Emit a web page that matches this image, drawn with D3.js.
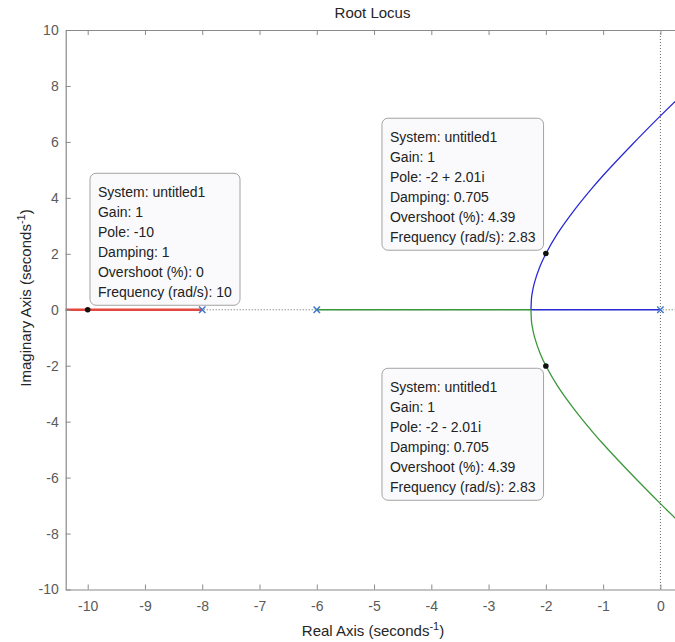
<!DOCTYPE html>
<html>
<head>
<meta charset="utf-8">
<script src="https://cdn.jsdelivr.net/npm/d3@7"></script>
<style>
  body { margin: 0; background: #fff; }
  svg { display: block; font-family: "Liberation Sans", Arial, sans-serif; }
  .axis path, .axis line { stroke: #8a8a8a; }
  .axis text { fill: #5a5a5a; font-size: 14px; }
</style>
</head>
<body>
<svg id="chart" width="675" height="642"></svg>
<script>
// values
const xTicks = [-10, -9, -8, -7, -6, -5, -4, -3, -2, -1, 0];
const yTicks = [-10, -8, -6, -4, -2, 0, 2, 4, 6, 8, 10];
const openLoopPoles = [0, -6, -8];
const breakaway = -2.26;

// upper complex branch (blue), [real, imag]
const upperBranch = [
  [-2.26, 0], [-2.25, 0.43], [-2.24, 0.58], [-2.2, 0.96], [-2.1, 1.56],
  [-2.0, 2.0], [-1.8, 2.71], [-1.5, 3.57], [-1.2, 4.33], [-1.0, 4.8],
  [-0.5, 5.89], [0, 6.93], [0.3, 7.53], [0.5, 7.92]
];
// lower branch (green) mirrors it
const lowerBranch = upperBranch.map(d => [d[0], -d[1]]);
// red branch runs left from -8 along the real axis
const redBranch = [[-8, 0], [-10.5, 0]];

const tips = [
  {re: -10, im: 0, w: 150, lines: ["System: untitled1", "Gain: 1", "Pole: -10", "Damping: 1", "Overshoot (%): 0", "Frequency (rad/s): 10"], corner: "bl"},
  {re: -2, im: 2.01, w: 161.6, lines: ["System: untitled1", "Gain: 1", "Pole: -2 + 2.01i", "Damping: 0.705", "Overshoot (%): 4.39", "Frequency (rad/s): 2.83"], corner: "br"},
  {re: -2, im: -2.01, w: 161.6, lines: ["System: untitled1", "Gain: 1", "Pole: -2 - 2.01i", "Damping: 0.705", "Overshoot (%): 4.39", "Frequency (rad/s): 2.83"], corner: "tr"}
];

const mLeft = 65.7, mRight = 679.3, mTop = 30, mBottom = 589.5;
const x = d3.scaleLinear().domain([-10.384, 0.33]).range([mLeft, mRight]);
const y = d3.scaleLinear().domain([-10, 10]).range([mBottom, mTop]);

const svg = d3.select('#chart');

svg.append('clipPath').attr('id', 'clip')
  .append('rect').attr('x', mLeft).attr('y', mTop)
  .attr('width', mRight - mLeft).attr('height', mBottom - mTop);

const plot = svg.append('g').attr('clip-path', 'url(#clip)');

// dotted zero lines
plot.append('line')
  .attr('x1', x(0)).attr('x2', x(0)).attr('y1', mTop).attr('y2', mBottom)
  .attr('stroke', '#555').attr('stroke-width', 0.9).attr('stroke-dasharray', '1,2');
plot.append('line')
  .attr('x1', mLeft).attr('x2', mRight).attr('y1', y(0)).attr('y2', y(0))
  .attr('stroke', '#555').attr('stroke-width', 0.9).attr('stroke-dasharray', '1,2');

const line = d3.line().x(d => x(d[0])).y(d => y(d[1])).curve(d3.curveCatmullRom);
const blue = '#2b2bd6', green = '#3a983a', red = '#e4473d';

// blue: pole at 0 to breakaway, then up
plot.append('path').attr('d', line([[0, 0], [breakaway, 0]]))
  .attr('fill', 'none').attr('stroke', blue).attr('stroke-width', 1.3);
plot.append('path').attr('d', line(upperBranch))
  .attr('fill', 'none').attr('stroke', blue).attr('stroke-width', 1.3);
// green: pole at -6 to breakaway, then down
plot.append('path').attr('d', line([[-6, 0], [breakaway, 0]]))
  .attr('fill', 'none').attr('stroke', green).attr('stroke-width', 1.3);
plot.append('path').attr('d', line(lowerBranch))
  .attr('fill', 'none').attr('stroke', green).attr('stroke-width', 1.3);
// red
plot.append('path').attr('d', line(redBranch))
  .attr('fill', 'none').attr('stroke', red).attr('stroke-width', 2.6);

// pole markers
const s = 3.2;
plot.selectAll('path.pole')
  .data(openLoopPoles)
  .enter()
  .append('path')
  .attr('class', 'pole')
  .attr('d', p => `M${x(p) - s},${y(0) - s}L${x(p) + s},${y(0) + s}M${x(p) - s},${y(0) + s}L${x(p) + s},${y(0) - s}`)
  .attr('stroke', '#3f78d0').attr('stroke-width', 1.5).attr('fill', 'none');

// axes (plain hyphen minus, like the original)
const fmt = d => String(d);
const xAxisB = d3.axisBottom(x).tickValues(xTicks).tickSize(-5).tickSizeOuter(0).tickPadding(12).tickFormat(fmt);
const xAxisT = d3.axisTop(x).tickValues(xTicks).tickSize(-5).tickSizeOuter(0).tickFormat('');
const yAxisL = d3.axisLeft(y).tickValues(yTicks).tickSize(-5).tickSizeOuter(0).tickPadding(7).tickFormat(fmt);

svg.append('g').attr('class', 'axis').attr('transform', `translate(0,${mBottom})`).call(xAxisB);
svg.append('g').attr('class', 'axis').attr('transform', `translate(0,${mTop})`).call(xAxisT);
svg.append('g').attr('class', 'axis').attr('transform', `translate(${mLeft},0)`).call(yAxisL);
svg.selectAll('.axis .domain').attr('stroke-width', 1.2);
svg.selectAll('.axis text').attr('fill', '#5a5a5a');

// titles
svg.append('text').attr('x', 372.5).attr('y', 18).attr('text-anchor', 'middle')
  .attr('font-size', 15).attr('fill', '#262626').text('Root Locus');

const xl = svg.append('text').attr('x', 373).attr('y', 636).attr('text-anchor', 'middle')
  .attr('font-size', 15).attr('fill', '#262626');
xl.append('tspan').text('Real Axis (seconds');
xl.append('tspan').attr('dy', -6).attr('font-size', 11).text('-1');
xl.append('tspan').attr('dy', 6).text(')');

const yl = svg.append('text').attr('transform', 'translate(31,298) rotate(-90)')
  .attr('text-anchor', 'middle').attr('font-size', 15).attr('fill', '#262626');
yl.append('tspan').text('Imaginary Axis (seconds');
yl.append('tspan').attr('dy', -6).attr('font-size', 11).text('-1');
yl.append('tspan').attr('dy', 6).text(')');

// data tips
const boxH = 132, lineH = 20;
tips.forEach(t => {
  const px = x(t.re), py = y(t.im);
  let bx, by;
  if (t.corner === 'bl') { bx = px + 2.3; by = py - 4.5 - boxH; }
  else if (t.corner === 'br') { bx = px - 2.3 - t.w; by = py - 3.3 - boxH; }
  else { bx = px - 2.3 - t.w; by = py + 2.3; }
  const g = svg.append('g');
  g.append('rect').attr('x', bx).attr('y', by).attr('width', t.w).attr('height', boxH)
    .attr('rx', 6).attr('fill', '#fafafc').attr('stroke', '#a3a3a3').attr('stroke-width', 1);
  g.selectAll('text').data(t.lines).enter().append('text')
    .attr('x', bx + 8).attr('y', (d, i) => by + 18.4 + 5 + i * lineH)
    .attr('font-size', 14).attr('fill', '#222').text(d => d);
  svg.append('circle').attr('cx', px).attr('cy', py).attr('r', 2.8).attr('fill', '#111');
});
</script>
</body>
</html>
